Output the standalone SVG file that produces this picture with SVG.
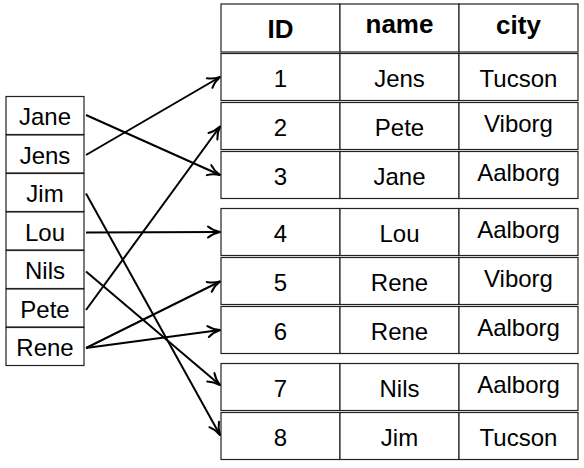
<svg xmlns="http://www.w3.org/2000/svg" width="584" height="468" viewBox="0 0 584 468">
<defs>
<style>
.cell{fill:#fff;stroke:#222;stroke-width:1.2}
.t{font-family:"Liberation Sans",Arial,sans-serif;font-size:24px;fill:#000;text-anchor:middle}
.h{font-family:"Liberation Sans",Arial,sans-serif;font-size:26px;font-weight:bold;fill:#000;text-anchor:middle}
.c{fill:none;stroke:#000;stroke-width:2}
</style>
<marker id="to" markerUnits="userSpaceOnUse" viewBox="-15 -8 17 16" refX="0" refY="0" markerWidth="17" markerHeight="16" orient="auto">
<path d="M-12,-5.5 C-8,-2.2 -3,-0.6 0,0 C-3,0.6 -8,2.2 -12,5.5" fill="none" stroke="#000" stroke-width="2" stroke-linecap="round" stroke-linejoin="round"/>
</marker>
</defs>
<rect width="584" height="468" fill="#fff"/>

<g id="list">
<g id="l-jane"><rect class="cell" x="6" y="96.5" width="78" height="38"/><text class="t" x="45" y="125">Jane</text></g>
<g id="l-jens"><rect class="cell" x="6" y="135" width="78" height="38"/><text class="t" x="45" y="163.5">Jens</text></g>
<g id="l-jim"><rect class="cell" x="6" y="173.5" width="78" height="38"/><text class="t" x="45" y="202">Jim</text></g>
<g id="l-lou"><rect class="cell" x="6" y="212" width="78" height="38"/><text class="t" x="45" y="240.5">Lou</text></g>
<g id="l-nils"><rect class="cell" x="6" y="250.5" width="78" height="38"/><text class="t" x="45" y="279">Nils</text></g>
<g id="l-pete"><rect class="cell" x="6" y="289" width="78" height="38"/><text class="t" x="45" y="317.5">Pete</text></g>
<g id="l-rene"><rect class="cell" x="6" y="327.5" width="78" height="38"/><text class="t" x="45" y="356">Rene</text></g>
</g>

<g id="table">
<g id="r-head"><rect class="cell" x="221" y="4" width="119" height="48"/><rect class="cell" x="340" y="4" width="119" height="48"/><rect class="cell" x="459" y="4" width="119" height="48"/>
<text class="h" x="280.5" y="37.5">ID</text><text class="h" x="399.5" y="33.3">name</text><text class="h" x="518.5" y="34">city</text></g>
<g id="r1"><rect class="cell" x="221" y="53.5" width="119" height="47"/><rect class="cell" x="340" y="53.5" width="119" height="47"/><rect class="cell" x="459" y="53.5" width="119" height="47"/>
<text class="t" x="280.5" y="87">1</text><text class="t" x="399.5" y="87">Jens</text><text class="t" x="518.5" y="87">Tucson</text></g>
<g id="r2"><rect class="cell" x="221" y="102.5" width="119" height="47"/><rect class="cell" x="340" y="102.5" width="119" height="47"/><rect class="cell" x="459" y="102.5" width="119" height="47"/>
<text class="t" x="280.5" y="136">2</text><text class="t" x="399.5" y="136">Pete</text><text class="t" x="518.5" y="132">Viborg</text></g>
<g id="r3"><rect class="cell" x="221" y="151.5" width="119" height="47"/><rect class="cell" x="340" y="151.5" width="119" height="47"/><rect class="cell" x="459" y="151.5" width="119" height="47"/>
<text class="t" x="280.5" y="185">3</text><text class="t" x="399.5" y="185">Jane</text><text class="t" x="518.5" y="181">Aalborg</text></g>
<g id="r4"><rect class="cell" x="221" y="208.5" width="119" height="47"/><rect class="cell" x="340" y="208.5" width="119" height="47"/><rect class="cell" x="459" y="208.5" width="119" height="47"/>
<text class="t" x="280.5" y="242">4</text><text class="t" x="399.5" y="242">Lou</text><text class="t" x="518.5" y="238">Aalborg</text></g>
<g id="r5"><rect class="cell" x="221" y="257.5" width="119" height="47"/><rect class="cell" x="340" y="257.5" width="119" height="47"/><rect class="cell" x="459" y="257.5" width="119" height="47"/>
<text class="t" x="280.5" y="291">5</text><text class="t" x="399.5" y="291">Rene</text><text class="t" x="518.5" y="287">Viborg</text></g>
<g id="r6"><rect class="cell" x="221" y="306.5" width="119" height="47"/><rect class="cell" x="340" y="306.5" width="119" height="47"/><rect class="cell" x="459" y="306.5" width="119" height="47"/>
<text class="t" x="280.5" y="340">6</text><text class="t" x="399.5" y="340">Rene</text><text class="t" x="518.5" y="336">Aalborg</text></g>
<g id="r7"><rect class="cell" x="221" y="363.5" width="119" height="47"/><rect class="cell" x="340" y="363.5" width="119" height="47"/><rect class="cell" x="459" y="363.5" width="119" height="47"/>
<text class="t" x="280.5" y="397">7</text><text class="t" x="399.5" y="397">Nils</text><text class="t" x="518.5" y="393">Aalborg</text></g>
<g id="r8"><rect class="cell" x="221" y="412.5" width="119" height="47"/><rect class="cell" x="340" y="412.5" width="119" height="47"/><rect class="cell" x="459" y="412.5" width="119" height="47"/>
<text class="t" x="280.5" y="446">8</text><text class="t" x="399.5" y="446">Jim</text><text class="t" x="518.5" y="446">Tucson</text></g>
</g>

<g id="connectors">
<line class="c" x1="86" y1="115" x2="220" y2="175" marker-end="url(#to)"/>
<line class="c" x1="86" y1="155" x2="220" y2="77" marker-end="url(#to)"/>
<line class="c" x1="86" y1="193.5" x2="220" y2="435" marker-end="url(#to)"/>
<line class="c" x1="86" y1="232.5" x2="220" y2="232" marker-end="url(#to)"/>
<line class="c" x1="86" y1="271.5" x2="220" y2="385" marker-end="url(#to)"/>
<line class="c" x1="86" y1="310" x2="220" y2="126.5" marker-end="url(#to)"/>
<line class="c" x1="86" y1="348" x2="220" y2="281.5" marker-end="url(#to)"/>
<line class="c" x1="86" y1="348" x2="220" y2="330" marker-end="url(#to)"/>
</g>
</svg>
